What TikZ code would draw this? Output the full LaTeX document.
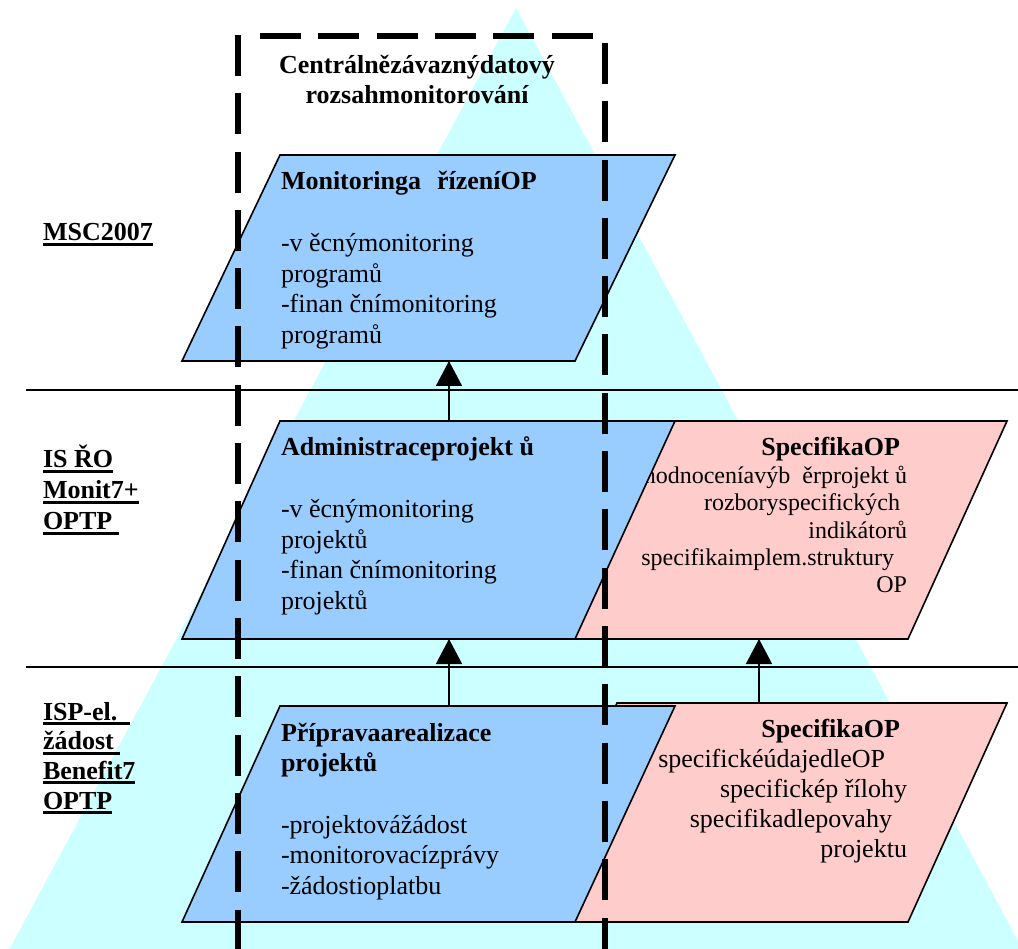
\documentclass[tikz,border=0pt]{standalone}
\usepackage{fontspec}
\setmainfont{Liberation Serif}
\usetikzlibrary{arrows.meta}
\definecolor{tricyan}{HTML}{CCFFFF}
\definecolor{bluebox}{HTML}{99CCFF}
\definecolor{pinkbox}{HTML}{FFCCCC}
\newcommand\ulbl[1]{\setbox0\hbox{#1}\rlap{\rule[-5pt]{\wd0}{3pt}}\box0}
\newcommand\blockL[2]{\vtop{\baselineskip=#1\lineskiplimit=-100pt\lineskip=0pt\halign{##\hfil\cr#2\crcr}}}
\newcommand\blockR[2]{\vtop{\baselineskip=#1\lineskiplimit=-100pt\lineskip=0pt\halign{\hfil##\cr#2\crcr}}}
\newcommand\blockC[2]{\vtop{\baselineskip=#1\lineskiplimit=-100pt\lineskip=0pt\halign{\hfil##\hfil\cr#2\crcr}}}
\begin{document}
\begin{tikzpicture}[x=1pt,y=-1pt,
  boxshape/.style={draw=black,line width=1.6pt},
  txt/.style={inner sep=0pt,outer sep=0pt,font=\fontsize{26}{30.7}\selectfont},
  lbl/.style={txt,anchor=base west,font=\fontsize{26}{30}\selectfont\bfseries},
  flowarrow/.style={line width=1.5pt,-{Triangle[width=26pt,length=25pt]}},
  dashframe/.style={line width=5.5pt,dash pattern=on 41pt off 17.3pt},
  sepline/.style={line width=1.8pt}]
\useasboundingbox (0,0) rectangle (1018,949);
% background pyramid
\fill[tricyan] (516,8) -- (1030,963) -- (2,963) -- cycle;
% level separators
\draw[sepline] (26,390) -- (1018,390);
\draw[sepline] (26,667) -- (1018,667);
% pink boxes
\filldraw[boxshape,fill=pinkbox] (617,421) -- (1007,421) -- (908,639) -- (518,639) -- cycle;
\node[txt,anchor=base east,font=\fontsize{24}{27.4}\selectfont] (pmid) at (907,456)
  {\blockR{27.4pt}{\fontsize{26}{30}\selectfont\bfseries SpecifikaOP\kern7pt\cr
   hodnoceníavýb\ \ ěrprojekt ů\cr
   rozboryspecifických\kern7pt\cr
   indikátorů\cr
   specifikaimplem.struktury\kern13pt\cr
   OP}};
\filldraw[boxshape,fill=pinkbox] (617,703) -- (1007,703) -- (908,922) -- (518,922) -- cycle;
\node[txt,anchor=base east] (pbot) at (907,737)
  {\blockR{30.2pt}{\bfseries SpecifikaOP\kern7pt\cr
   specifickéúdajedleOP\kern22pt\cr
   specifickép řílohy\cr
   specifikadlepovahy\kern15pt\cr
   projektu}};
% blue boxes
\filldraw[boxshape,fill=bluebox] (280,155) -- (675,155) -- (575,361) -- (182,361) -- cycle;
\node[txt,anchor=base west] (btop) at (281,190)
  {\blockL{30.7pt}{\bfseries Monitoringa\hspace{16pt}řízeníOP\cr\cr
   -v ěcnýmonitoring\cr programů\cr -finan čnímonitoring\cr programů}};
\filldraw[boxshape,fill=bluebox] (280,421) -- (675,421) -- (575,639) -- (182,639) -- cycle;
\node[txt,anchor=base west] (bmid) at (281,456)
  {\blockL{30.7pt}{\bfseries Administraceprojekt ů\cr\cr
   -v ěcnýmonitoring\cr projektů\cr -finan čnímonitoring\cr projektů}};
\filldraw[boxshape,fill=bluebox] (280,706) -- (675,706) -- (575,922) -- (182,922) -- cycle;
\node[txt,anchor=base west] (bbot) at (281,741)
  {\blockL{30.7pt}{\bfseries Přípravaarealizace\cr \bfseries projektů\cr\cr
   -projektovážádost\cr -monitorovacízprávy\cr -žádostioplatbu}};
% connectors
\coordinate (topS) at (449,361);
\coordinate (midN) at (449,421);
\coordinate (midS) at (449,639);
\coordinate (botN) at (449,706);
\coordinate (pmidS) at (759,639);
\coordinate (pbotN) at (759,703);
\draw[flowarrow] (midN) -- (topS);
\draw[flowarrow] (botN) -- (midS);
\draw[flowarrow] (pbotN) -- (pmidS);
% dashed frame of the central scope
\draw[dashframe] (238,35) -- (238,960);
\draw[dashframe] (260,36) -- (605,36);
\draw[dashframe] (605,43) -- (605,960);
\node[txt,anchor=base] (scope) at (417,74)
  {\blockC{30pt}{\bfseries Centrálnězávaznýdatový\cr \bfseries rozsahmonitorování}};
% level labels
\node[lbl] (l1) at (43,241) {\ulbl{MSC2007}};
\node[lbl] (l2) at (43,468) {\blockL{31pt}{\ulbl{IS ŘO}\cr \ulbl{Monit7+}\cr \ulbl{OPTP\ }}};
\node[lbl] (l3) at (43,720) {\blockL{29.7pt}{\ulbl{ISP-el.\ \ }\cr \ulbl{žádost\ }\cr \ulbl{Benefit7}\cr \ulbl{OPTP}}};
\end{tikzpicture}
\end{document}
